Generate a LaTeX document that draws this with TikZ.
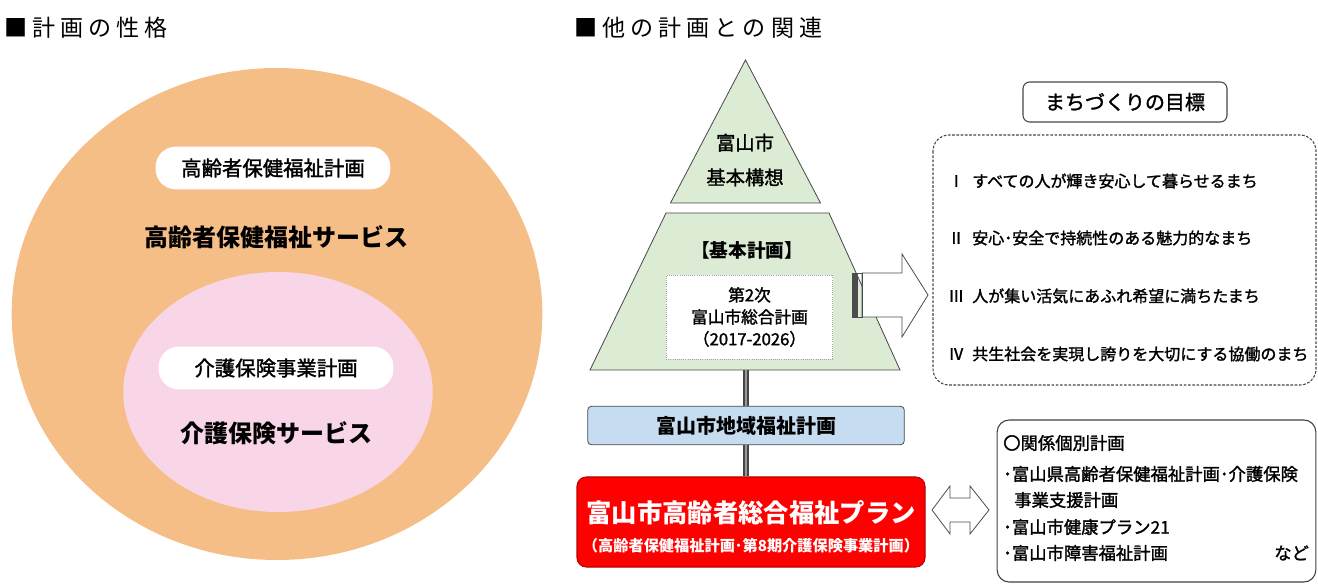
\documentclass[tikz,border=0pt]{standalone}
\usepackage{fontspec}
\setmainfont{Noto Sans CJK JP}
\newfontfamily\ttlfont[LetterSpace=22]{Noto Sans CJK JP}
\newfontfamily\semifont[BoldFont={Noto Sans CJK JP}, BoldFeatures={FakeBold=1.6}]{Noto Sans CJK JP}
\usetikzlibrary{shapes.geometric}
\definecolor{orangeF}{RGB}{246,190,135}
\definecolor{pinkF}{RGB}{248,214,232}
\definecolor{greenF}{RGB}{220,235,212}
\definecolor{blueF}{RGB}{198,220,240}
\definecolor{redF}{RGB}{255,0,0}
\definecolor{redD}{RGB}{190,0,0}
\definecolor{lineG}{RGB}{70,70,70}
\tikzset{
  ttl/.style={anchor=west, inner sep=0pt, font=\ttlfont\fontsize{17.3}{19}\selectfont},
  pill/.style={fill=white, rounded corners=15pt, minimum width=176pt, minimum height=32pt, inner sep=0pt, font=\semifont\bfseries\fontsize{15.3}{18}\selectfont},
  svc/.style={inner sep=0pt, font=\bfseries\fontsize{18}{22}\selectfont},
  pyr/.style={fill=greenF, draw=lineG, line width=0.6pt},
  pyrtxt/.style={inner sep=0pt, align=center, font=\semifont\bfseries\fontsize{14.5}{26}\selectfont},
  link/.style={draw=gray!55!black, line width=4.6pt},
  linkin/.style={draw=gray!80, line width=2.2pt},
  blockarrow/.style={fill=white, draw=gray!60!black, line width=0.6pt},
  goal/.style={anchor=west, inner sep=0pt, font=\semifont\bfseries\fontsize{12}{14}\selectfont},
  rel/.style={anchor=west, inner sep=0pt, font=\semifont\bfseries\fontsize{13}{15}\selectfont},
}
\begin{document}
\begin{tikzpicture}[x=0.75pt,y=-0.75pt]
\useasboundingbox (0,0) rectangle (1318,584);

% ---------- left panel ----------
\node[ttl] (lt) at (4,28) {■計画の性格};
\node[ellipse, fill=orangeF, minimum width=398pt, minimum height=369pt, inner sep=0pt] (outer) at (277,314) {};
\node[ellipse, fill=pinkF, minimum width=232pt, minimum height=180pt, inner sep=0pt] (inner) at (278,392) {};
\node[pill] (p1) at (273,168) {高齢者保健福祉計画};
\node[svc] (s1) at (276,237) {高齢者保健福祉サービス};
\node[pill] (p2) at (276,368) {介護保険事業計画};
\node[svc] (s2) at (276,433) {介護保険サービス};

% ---------- right panel ----------
\node[ttl] (rt) at (574,28) {■他の計画との関連};

% pyramid
\draw[pyr] (745.5,60) -- (820.5,203) -- (670.5,203) -- cycle;
\draw[pyr] (666,213) -- (829,213) -- (900,370) -- (590,370) -- cycle;
\coordinate (pyrbase) at (746,370);
\node[pyrtxt] (kousou) at (745,160) {富山市\\基本構想};
\node[inner sep=0pt, font=\bfseries\fontsize{14}{16}\selectfont] (kihon) at (747,250) {【基本計画】};
\node[fill=white, draw=gray!70, densely dotted, line width=0.6pt, minimum width=125pt, minimum height=63pt, inner sep=0pt] (sogo) at (749.5,317) {};
\node[inner sep=0pt, align=center, font=\semifont\bfseries\fontsize{12.5}{16.5}\selectfont] (sogot) at (sogo) {第2次\\富山市総合計画\\（2017-2026）};

% goals arrow
\coordinate (ga) at (862,295);
\draw[blockarrow] (ga) ++(0,-22) -- ++(40,0) -- ++(0,-19) -- (928,295) -- (902,337) -- ++(0,-20) -- ++(-40,0) -- cycle;
\fill[gray!60!black] (852,273) rectangle (858,317);
\draw[gray!60!black, line width=0.6pt] (852,273) rectangle (862,317);

% goals
\node[draw=lineG, line width=0.8pt, rounded corners=5pt, minimum width=153pt, minimum height=30pt, inner sep=0pt, font=\semifont\bfseries\fontsize{15}{18}\selectfont] (gh) at (1125,102) {まちづくりの目標};
\draw[lineG, line width=0.8pt, dash pattern=on 2pt off 1.2pt, rounded corners=12pt] (933,135) rectangle (1316,385);
\node[goal] (n1) at (948,181) {Ⅰ};
\node[goal] (g1) at (972,181) {すべての人が輝き安心して暮らせるまち};
\node[goal] (n2) at (948,238) {Ⅱ};
\node[goal] (g2) at (972,238) {安心･安全で持続性のある魅力的なまち};
\node[goal] (n3) at (948,296) {Ⅲ};
\node[goal] (g3) at (972,296) {人が集い活気にあふれ希望に満ちたまち};
\node[goal] (n4) at (948,354) {Ⅳ};
\node[goal] (g4) at (972,354) {共生社会を実現し誇りを大切にする協働のまち};

% blue box
\node[fill=blueF, draw=gray!60!black, line width=0.6pt, rounded corners=3pt, minimum width=237.5pt, minimum height=29pt, inner sep=0pt, font=\bfseries\fontsize{15}{18}\selectfont] (chiiki) at (746,425.5) {富山市地域福祉計画};

% red box
\node[fill=redF, draw=redD, line width=0.8pt, rounded corners=7pt, minimum width=261pt, minimum height=67.5pt, inner sep=0pt] (plan) at (751,522) {};
\node[inner sep=0pt, text=white, font=\bfseries\fontsize{19}{22}\selectfont] (plant) at (751,513) {富山市高齢者総合福祉プラン};
\node[inner sep=0pt, text=white, font=\bfseries\fontsize{11.4}{12}\selectfont] (plans) at (751,546) {（高齢者保健福祉計画･第8期介護保険事業計画）};

% connectors
\draw[link] (pyrbase) -- (chiiki.north);
\draw[linkin] (pyrbase) -- (chiiki.north);
\draw[link] (chiiki.south) -- (chiiki.south |- plan.north);
\draw[linkin] (chiiki.south) -- (chiiki.south |- plan.north);

% related box
\node[draw=gray!50!black, line width=0.8pt, rounded corners=9pt, minimum width=239pt, minimum height=121.5pt, inner sep=0pt] (relbox) at (1156.5,501) {};
\coordinate (da) at (932,510);
\draw[blockarrow] (da) -- (950,486) -- (950,498) -- (970,498) -- (970,486) -- (989,510) -- (970,534) -- (970,522) -- (950,522) -- (950,534) -- cycle;
\node[rel] (r1) at (1003,443) {〇関係個別計画};
\node[rel] (r2) at (1003,474) {･富山県高齢者保健福祉計画･介護保険};
\node[rel] (r3) at (1014,500) {事業支援計画};
\node[rel] (r4) at (1003,527) {･富山市健康プラン21};
\node[rel] (r5) at (1003,553) {･富山市障害福祉計画};
\node[rel] (r6) at (1274,553) {など};
\end{tikzpicture}
\end{document}
